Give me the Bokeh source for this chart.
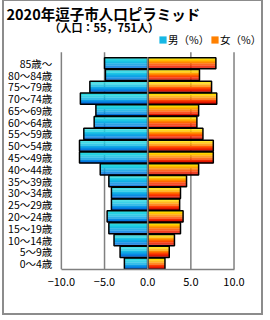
from bokeh.plotting import figure
from bokeh.models import (ColumnDataSource, Range1d, FixedTicker, Label, Legend, LegendItem)
from bokeh.core.properties import value
from bokeh.transform import dodge
from bokeh.embed import file_html
from bokeh.resources import INLINE

FONT = "Noto Sans CJK JP"

ages = ["0～4歳", "5～9歳", "10～14歳", "15～19歳", "20～24歳", "25～29歳",
        "30～34歳", "35～39歳", "40～44歳", "45～49歳", "50～54歳", "55～59歳",
        "60～64歳", "65～69歳", "70～74歳", "75～79歳", "80～84歳", "85歳～"]
male = [2.7, 3.2, 3.9, 4.5, 4.7, 4.2, 4.2, 4.5, 5.5, 7.9, 7.9, 7.4,
        6.2, 6.0, 7.8, 6.7, 4.9, 5.0]
female = [2.0, 2.5, 3.1, 3.8, 4.1, 3.7, 3.8, 4.5, 5.9, 7.6, 7.6, 6.4,
          5.7, 5.9, 8.0, 7.4, 6.0, 7.9]
x_ticks = [-10, -5, 0, 5, 10]
x_tick_labels = ["−10.0", "−5.0", "0.0", "5.0", "10.0"]
grid_ticks = [-10, -5, 5, 10]
title_text = "2020年逗子市人口ピラミッド"
subtitle_text = "（人口：55，751人）"
series_names = ["男（%）", "女（%）"]

# layout constants in page pixels
OX, OY = 6, 3            # canvas origin inside the bordered box
W, H = 257, 312          # canvas size
FRAME_BOTTOM = 267 - OY  # x axis line
X_MIN_PX, X_MAX_PX = 62 - OX, 232 - OX   # -10 and +10
BARS_TOP_PX = 58 - OY

pos = list(range(len(ages)))
src = ColumnDataSource(dict(pos=pos, age=ages, male_neg=[-v for v in male],
                            female=female, zero=[0] * len(ages)))

xs = (X_MAX_PX - X_MIN_PX) / 20.0
ys = (FRAME_BOTTOM - BARS_TOP_PX) / len(ages)
x_range = Range1d(-10 - X_MIN_PX / xs, -10 + (W - X_MIN_PX) / xs)
y_range = Range1d(-0.5, -0.5 + FRAME_BOTTOM / ys)

p = figure(width=W, height=H, output_backend="svg", toolbar_location=None,
           title_location=None, y_axis_location=None,
           x_range=x_range, y_range=y_range,
           min_border_left=0, min_border_right=0, min_border_top=0,
           min_border_bottom=H - FRAME_BOTTOM)
p.outline_line_color = None
p.background_fill_color = "white"
p.border_fill_color = "white"
p.grid.visible = False
p.styles = {"border": "2px solid #8c8c8c", "margin-left": "2px", "margin-top": "-1px",
            "box-sizing": "content-box"}

# grid lines
p.segment(x0=grid_ticks, x1=grid_ticks, y0=-0.5, y1=len(ages) - 0.5 + 0.43,
          line_color="#808080", line_width=1.5)


def lerp(c1, c2, t):
    a = [int(c1[i:i + 2], 16) for i in (1, 3, 5)]
    b = [int(c2[i:i + 2], 16) for i in (1, 3, 5)]
    return "#%02x%02x%02x" % tuple(round(a[j] + (b[j] - a[j]) * t) for j in range(3))


def grad(stops, t):
    n = len(stops) - 1
    k = min(int(t * n), n - 1)
    return lerp(stops[k], stops[k + 1], t * n - k)


male_stops = ["#0062d8", "#0c9ce6", "#1cc6e4", "#30e0e0"]   # bottom -> top
female_stops = ["#d00000", "#ff4000", "#ffa000", "#fff000"]  # bottom -> top
BAR_H = 0.95
K = 10
mid_m = mid_f = None
for i in range(K):
    off = -BAR_H / 2 + (i + 0.5) * BAR_H / K
    t = i / (K - 1)
    rm = p.hbar(y=dodge("pos", off), left="male_neg", right="zero",
                height=BAR_H / K + 0.01, fill_color=grad(male_stops, t), line_color=None,
                source=src)
    rf = p.hbar(y=dodge("pos", off), left="zero", right="female",
                height=BAR_H / K + 0.01, fill_color=grad(female_stops, t), line_color=None,
                source=src)
    if i == K // 2:
        mid_m, mid_f = rm, rf

p.hbar(y="pos", left="male_neg", right="zero", height=BAR_H, fill_color=None,
       line_color="black", line_width=1.5, source=src)
p.hbar(y="pos", left="zero", right="female", height=BAR_H, fill_color=None,
       line_color="black", line_width=1.5, source=src)

# centre line over bars
p.segment(x0=[0], x1=[0], y0=-0.5, y1=len(ages) - 0.5,
          line_color="#808080", line_width=1.5)

# category labels
p.text(x=-10, y="pos", text="age", source=src, x_offset=-9,
       text_align="right", text_baseline="middle",
       text_font=value(FONT), text_font_size="10.5px", text_color="black")

# x axis
p.xaxis.ticker = FixedTicker(ticks=x_ticks)
p.xaxis.bounds = (-10, 10)
p.xaxis.major_label_overrides = dict(zip(x_ticks, x_tick_labels))
p.xaxis.major_label_text_font = FONT
p.xaxis.major_label_text_font_size = "11px"
p.xaxis.major_label_text_color = "black"
p.xaxis.major_label_standoff = 8
p.xaxis.major_tick_out = 0
p.xaxis.major_tick_in = 0
p.xaxis.minor_tick_line_color = None
p.xaxis.axis_line_color = "#808080"
p.xaxis.axis_line_width = 1.5

# titles (screen units relative to frame bottom-left)
p.add_layout(Label(x=8 - OX, y=FRAME_BOTTOM - (11 - OY), x_units="screen", y_units="screen",
                   text=title_text, text_font=FONT, text_font_size="14.5px",
                   text_font_style="bold", text_color="black",
                   text_baseline="middle"))
p.add_layout(Label(x=51 - OX, y=FRAME_BOTTOM - (24.5 - OY), x_units="screen", y_units="screen",
                   text=subtitle_text, text_font=FONT, text_font_size="11px",
                   text_font_style="bold", text_color="black",
                   text_baseline="middle"))

legend_x = [160, 212]
for name, rend, lx in zip(series_names, [mid_m, mid_f], legend_x):
    p.add_layout(Legend(items=[LegendItem(label=name, renderers=[rend])],
                        orientation="horizontal",
                        location=(lx - OX, FRAME_BOTTOM - (45 - OY)),
                        glyph_width=9, glyph_height=9, label_standoff=1, spacing=0,
                        padding=0, margin=0, border_line_color=None,
                        background_fill_alpha=0,
                        label_text_font=FONT, label_text_font_size="10.5px",
                        label_text_color="black", label_height=12), "center")

open("out.html", "w").write(file_html(p, INLINE))
